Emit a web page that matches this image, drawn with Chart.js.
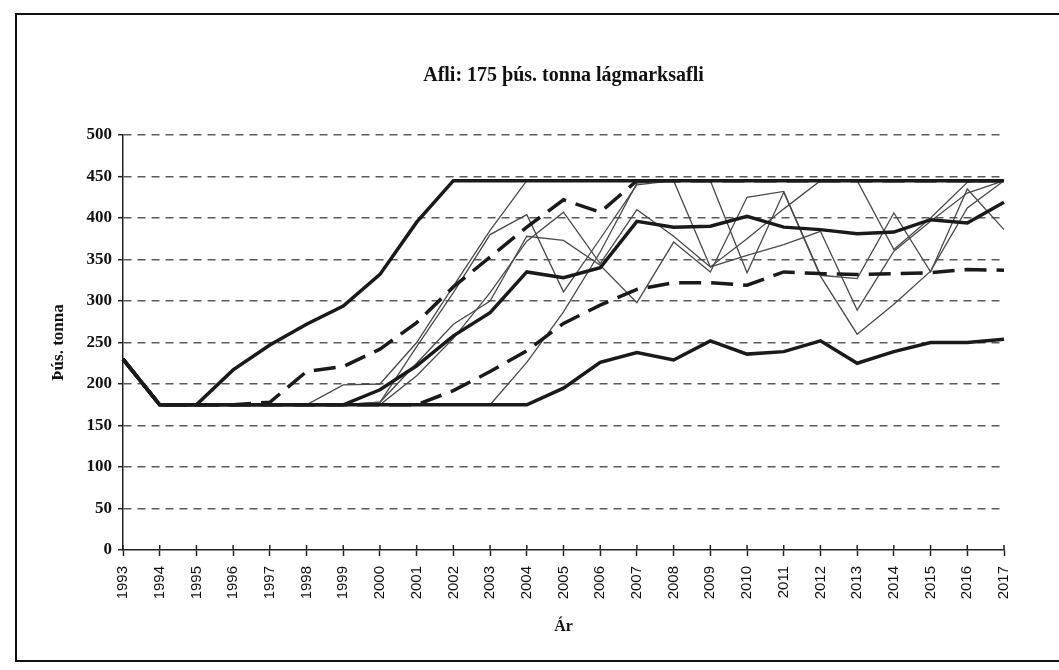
<!DOCTYPE html>
<html>
<head>
<meta charset="utf-8">
<script src="https://cdn.jsdelivr.net/npm/chart.js@4.4.1/dist/chart.umd.min.js"></script>
<style>
  html, body { margin: 0; padding: 0; background: #fff; overflow: hidden; }
  #frame {
    position: absolute; left: 15px; top: 13px; right: -20px; bottom: 8px;
    border: 2px solid #111; border-right: none;
  }
  #chart { position: absolute; left: 0; top: 0; }
</style>
</head>
<body>
<div id="frame"></div>
<canvas id="chart" width="1059" height="670"></canvas>
<script>
// Years on the x axis
const years = ["1993","1994","1995","1996","1997","1998","1999","2000","2001","2002","2003","2004","2005",
  "2006","2007","2008","2009","2010","2011","2012","2013","2014","2015","2016","2017"];

// Thick lines: upper bound, median, lower bound (þús. tonna)
const maxCatch = [230,175,175,217,247,272,294,332,395,445,445,445,445,445,445,445,445,445,445,445,445,445,445,445,445];
const medianCatch = [230,175,175,175,175,175,175,193,222,258,286,335,328,340,396,389,390,402,389,386,381,383,398,394,419];
const minCatch = [230,175,175,175,175,175,175,175,175,175,175,175,195,226,238,229,252,236,239,252,225,239,250,250,254];

// Dashed lines: quartiles
const upperQuartile = [230,175,175,175,178,215,221,242,274,317,353,389,422,407,445,445,445,445,445,445,445,445,445,445,445];
const lowerQuartile = [230,175,175,175,175,175,175,175,175,192,215,240,273,295,314,322,322,319,335,333,332,333,334,338,337];

// Thin lines: single runs
const run1 = [230,175,175,175,175,175,199,200,250,318,385,445,445,445,445,445,445,445,445,445,445,445,445,445,445];
const run2 = [230,175,175,175,175,175,175,178,245,310,380,404,311,375,440,445,445,334,431,330,260,296,336,412,445];
const run3 = [230,175,175,175,175,175,175,178,225,272,300,378,373,343,298,371,335,425,432,331,327,406,335,435,386];
const run4 = [230,175,175,175,175,175,175,175,210,255,310,372,407,345,410,378,341,375,411,445,445,362,400,443,445];
const run5 = [230,175,175,175,175,175,175,175,175,175,175,226,287,359,442,445,341,355,368,384,289,360,396,430,445];

const thick = (data) => ({ data, borderColor: "#1a1a1a", borderWidth: 3.5, pointRadius: 0, tension: 0, fill: false });
const dashed = (data) => ({ data, borderColor: "#1a1a1a", borderWidth: 3.5, borderDash: [22, 10], pointRadius: 0, tension: 0, fill: false });
const thin = (data) => ({ data, borderColor: "#4a4a4a", borderWidth: 1.3, pointRadius: 0, tension: 0, fill: false });

// Tick marks on the x axis cross the axis line
const crossTicks = {
  id: "crossTicks",
  afterDraw(chart) {
    const x = chart.scales.x;
    const c = chart.ctx;
    c.save();
    c.strokeStyle = "#222";
    c.lineWidth = 1.5;
    x.ticks.forEach((t, i) => {
      const px = x.getPixelForTick(i);
      c.beginPath();
      c.moveTo(px, x.top);
      c.lineTo(px, x.top - 5);
      c.stroke();
    });
    c.restore();
  },
};

const serif = "'Liberation Serif', 'Times New Roman', serif";

new Chart(document.getElementById("chart").getContext("2d"), {
  type: "line",
  data: {
    labels: years,
    datasets: [
      thick(maxCatch),
      thick(medianCatch),
      thick(minCatch),
      dashed(upperQuartile),
      dashed(lowerQuartile),
      thin(run1),
      thin(run2),
      thin(run3),
      thin(run4),
      thin(run5),
    ],
  },
  options: {
    responsive: false,
    animation: false,
    layout: { padding: { left: 20, right: 55, top: 0, bottom: 22 } },
    plugins: {
      legend: { display: false },
      tooltip: { enabled: false },
      title: {
        display: true,
        fullSize: false,
        text: "Afli: 175 þús. tonna lágmarksafli",
        color: "#111",
        font: { family: serif, size: 20, weight: "bold" },
        padding: { top: 64, bottom: 47 },
      },
    },
    scales: {
      x: {
        offset: false,
        grid: { drawOnChartArea: false, drawTicks: true, tickLength: 6, tickColor: "#222", tickWidth: 1.5 },
        border: { color: "#222", width: 1.5 },
        ticks: {
          autoSkip: false,
          maxRotation: 90,
          minRotation: 90,
          padding: 10,
          color: "#111",
          font: { family: "'Liberation Sans', Arial, sans-serif", size: 15 },
        },
        title: {
          display: true,
          text: "Ár",
          color: "#111",
          font: { family: serif, size: 16, weight: "bold" },
          padding: { top: 0, bottom: 12 },
        },
        afterFit(scale) { scale.height = 98; },
      },
      y: {
        min: 0,
        max: 500,
        ticks: {
          stepSize: 50,
          padding: 6,
          color: "#111",
          font: { family: serif, size: 17, weight: "bold" },
        },
        grid: {
          color: (ctx) => (ctx.tick && ctx.tick.value === 0 ? "rgba(0,0,0,0)" : "#5a5a5a"),
          lineWidth: 1.4,
          tickLength: 5,
          tickColor: "#222",
          tickWidth: 1.5,
        },
        border: { display: true, color: "#222", width: 1.5, dash: [8, 6] },
        title: {
          display: true,
          text: "Þús. tonna",
          color: "#111",
          font: { family: serif, size: 17, weight: "bold" },
          padding: { top: 28, bottom: 0 },
        },
        afterFit(scale) { scale.width = 103; },
      },
    },
  },
  plugins: [crossTicks],
});
</script>
</body>
</html>
